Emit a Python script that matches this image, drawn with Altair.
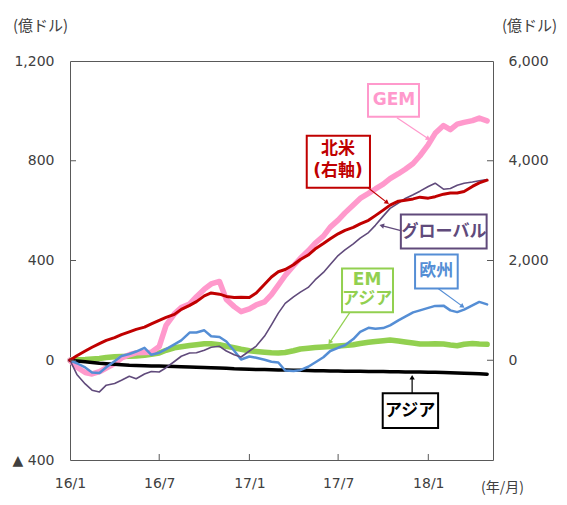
import altair as alt
import pandas as pd

# ---- data (half-monthly, 2016/1 - 2018/5) ----
dates = pd.date_range("2016-01-01", periods=57, freq="SMS")

gem = [0, -28, -49, -55, -46, -31, -13, 9, 22, 30, 31, 32, 55, 140, 186, 211, 226, 255, 285, 306,
       316, 244, 215, 195, 206, 222, 234, 263, 301, 340, 379, 409, 439, 469, 498, 534, 562, 591, 623, 649,
       669, 687, 706, 728, 748, 766, 789, 820, 865, 910, 941, 925, 947, 954, 961, 971, 960]
north_america = [0, 90, 185, 260, 335, 400, 455, 515, 570, 620, 665, 730, 800, 860, 920, 1020, 1100, 1175, 1290, 1350,
                 1325, 1280, 1260, 1265, 1260, 1350, 1525, 1670, 1775, 1820, 1915, 2020, 2110, 2230, 2340, 2435, 2535, 2605, 2665, 2735,
                 2805, 2900, 3010, 3110, 3190, 3210, 3235, 3270, 3250, 3280, 3330, 3355, 3355, 3385, 3485, 3555, 3610]
global_ = [0, -57, -95, -120, -127, -100, -93, -80, -64, -74, -55, -45, -47, -30, -5, 16, 29, 30, 40, 52,
           56, 37, 22, 13, 37, 57, 97, 142, 189, 228, 254, 273, 292, 322, 352, 384, 420, 443, 467, 490,
           512, 541, 578, 609, 630, 649, 664, 678, 697, 710, 686, 689, 702, 710, 715, 720, 725]
europe = [0, -12, -29, -49, -51, -28, -4, 17, 25, 35, 50, 22, 30, 45, 64, 80, 111, 111, 120, 96,
          93, 75, 38, 3, 15, 10, 2, -6, -9, -41, -43, -40, -26, -9, 12, 37, 50, 60, 85, 114,
          130, 126, 129, 140, 160, 175, 192, 200, 210, 218, 219, 200, 193, 203, 220, 234, 224]
em_asia = [0, 2, 3, 5, 7, 11, 14, 15, 16, 17, 20, 24, 29, 40, 50, 54, 59, 62, 66, 66,
           62, 56, 50, 44, 38, 35, 32, 30, 29, 31, 38, 45, 48, 51, 53, 55, 57, 59, 62, 67,
           72, 75, 78, 81, 77, 73, 69, 65, 65, 66, 65, 61, 58, 64, 67, 65, 64]
asia = [0, -3, -6, -9, -12, -14, -16, -18, -20, -21, -22, -23, -23, -24, -25, -26, -27, -28, -29, -30,
        -31, -32, -34, -35, -36, -37, -37, -38, -39, -39, -40, -40, -41, -42, -42, -43, -43, -44, -44, -44,
        -45, -45, -45, -46, -46, -47, -47, -47, -48, -48, -49, -50, -51, -52, -53, -54, -56]

# axis ticks
x_ticks = ["2016-01-01", "2016-07-01", "2017-01-01", "2017-07-01", "2018-01-01"]
left_ticks = [-400, 0, 400, 800, 1200]
right_ticks = [0, 2000, 4000, 6000]

# annotation boxes + arrows
ann_color = ["#FF99CC", "#C00000", "#604A7B", "#558ED5", "#92D050", "#000000"]
box_x0 = ["2017-08-31", "2017-04-28", "2017-11-06", "2017-12-05", "2017-07-09", "2017-09-30"]
box_x1 = ["2017-12-13", "2017-09-04", "2018-04-30", "2018-03-02", "2017-10-21", "2018-01-21"]
box_y0 = [976, 692, 448, 288, 192, -272]
box_y1 = [1108, 900, 584, 424, 368, -132]
arr_x0 = ["2017-10-29", "2017-08-31", "2017-11-06", "2018-01-21", "2017-07-25", "2017-11-29"]
arr_y0 = [972, 692, 520, 288, 192, -132]
arr_x1 = ["2018-01-01", "2017-10-09", "2017-09-28", "2018-03-12", "2017-06-14", "2017-11-29"]
arr_y1 = [888, 632, 540, 216, 72, -68]
arr_angle = [124, 128, 285, 126, 214, 0]

# annotation text lines
lab_text = ["GEM", "北米", "(右軸)", "グローバル", "欧州", "EM", "アジア", "アジア"]
lab_color = ["#FF99CC", "#C00000", "#C00000", "#604A7B", "#558ED5", "#92D050", "#92D050", "#000000"]
lab_x = ["2017-10-23", "2017-07-01", "2017-07-01", "2018-02-02", "2018-01-17",
         "2017-08-29", "2017-08-29", "2017-11-25"]
lab_y = [1042, 846, 758, 516, 356, 322, 244, -202]

# ---- styling ----
FONT = "DejaVu Sans"
JFONT = "Noto Sans CJK JP"
AXC = "#404040"
FRAME = "#595959"

xs = alt.Scale(domain=[alt.DateTime(year=2016, month=1, date=1),
                       alt.DateTime(year=2018, month=5, date=13)])
ys_left = alt.Scale(domain=[-400, 1200], nice=False, zero=False)
ys_right = alt.Scale(domain=[-2000, 6000], nice=False, zero=False)

x_axis = alt.Axis(
    values=[alt.DateTime(year=int(d[:4]), month=int(d[5:7]), date=1) for d in x_ticks],
    labelExpr="timeFormat(datum.value, '%y/%-m')",
    grid=False, domain=False, ticks=False, labelFlush=False, labelOverlap=False,
    labelPadding=16, labelFont=FONT, labelFontSize=14, labelColor=AXC,
    title="(年/月)", titleAngle=0, titleX=432, titleY=27, titleAlign="center",
    titleBaseline="middle", titleFont=JFONT, titleFontSize=14, titleFontWeight="normal",
    titleColor=AXC,
)
left_axis = alt.Axis(
    values=left_ticks, orient="left",
    labelExpr="datum.value < 0 ? '▲ ' + format(-datum.value, ',') : format(datum.value, ',')",
    grid=False, domain=False, ticks=False, labelPadding=16, labelFont=FONT, labelFontSize=14,
    labelColor=AXC, labelBaseline="middle",
    title="(億ドル)", titleAngle=0, titleX=-30, titleY=-36, titleAlign="center",
    titleBaseline="middle", titleFont=JFONT, titleFontSize=15, titleFontWeight="normal",
    titleColor=AXC,
)
right_axis = alt.Axis(
    values=right_ticks, orient="right",
    labelExpr="format(datum.value, ',')",
    grid=False, domain=False, ticks=False, labelPadding=15, labelFont=FONT, labelFontSize=14,
    labelColor=AXC, labelBaseline="middle",
    title="(億ドル)", titleAngle=0, titleX=36, titleY=-36, titleAlign="center",
    titleBaseline="middle", titleFont=JFONT, titleFontSize=15, titleFontWeight="normal",
    titleColor=AXC,
)


def series_df(vals):
    return pd.DataFrame({"date": dates, "value": vals})


def line_layer(vals, color, width, y_scale, y_ax):
    return alt.Chart(series_df(vals)).mark_line(
        color=color, strokeWidth=width, strokeJoin="round", strokeCap="round"
    ).encode(
        x=alt.X("date:T", scale=xs, axis=x_axis),
        y=alt.Y("value:Q", scale=y_scale, axis=y_ax),
    )


left_group = alt.layer(
    line_layer(em_asia, "#92D050", 5.5, ys_left, left_axis),
    line_layer(gem, "#FF99CC", 5.5, ys_left, left_axis),
    line_layer(asia, "#000000", 3.5, ys_left, left_axis),
    line_layer(europe, "#558ED5", 2.5, ys_left, left_axis),
    line_layer(global_, "#604A7B", 1.6, ys_left, left_axis),
)

red = line_layer(north_america, "#C00000", 3, ys_right, right_axis)

# inward ticks
xt_df = pd.DataFrame({"d": pd.to_datetime(x_ticks[1:])})
xt = alt.Chart(xt_df).mark_rule(color=FRAME, strokeWidth=1).encode(
    x=alt.X("d:T", scale=xs, axis=x_axis), y=alt.value(399), y2=alt.value(393))
yt_df = pd.DataFrame({"v": [0, 400, 800]})
ytl = alt.Chart(yt_df).mark_rule(color=FRAME, strokeWidth=1).encode(
    y=alt.Y("v:Q", scale=ys_left, axis=None), x=alt.value(0), x2=alt.value(6))
ytr = alt.Chart(yt_df).mark_rule(color=FRAME, strokeWidth=1).encode(
    y=alt.Y("v:Q", scale=ys_left, axis=None), x=alt.value(423), x2=alt.value(417))

ann_df = pd.DataFrame({
    "color": ann_color,
    "bx0": pd.to_datetime(box_x0), "bx1": pd.to_datetime(box_x1),
    "by0": box_y0, "by1": box_y1,
    "ax0": pd.to_datetime(arr_x0), "ay0": arr_y0,
    "ax1": pd.to_datetime(arr_x1), "ay1": arr_y1,
    "angle": arr_angle,
})
lab_df = pd.DataFrame({
    "text": lab_text, "color": lab_color,
    "tx": pd.to_datetime(lab_x), "ty": lab_y,
})

arrows = alt.Chart(ann_df).mark_rule(strokeWidth=1.2).encode(
    x=alt.X("ax0:T", scale=xs, axis=x_axis), x2="ax1:T",
    y=alt.Y("ay0:Q", scale=ys_left, axis=None), y2="ay1:Q",
    color=alt.Color("color:N", scale=None),
)
heads = alt.Chart(ann_df).mark_point(shape="triangle-up", filled=True, size=28, opacity=1).encode(
    x=alt.X("ax1:T", scale=xs, axis=x_axis),
    y=alt.Y("ay1:Q", scale=ys_left, axis=None),
    color=alt.Color("color:N", scale=None),
    angle=alt.Angle("angle:Q", scale=None),
)
boxes = alt.Chart(ann_df).mark_rect(fill="white", strokeWidth=2).encode(
    x=alt.X("bx0:T", scale=xs, axis=x_axis), x2="bx1:T",
    y=alt.Y("by0:Q", scale=ys_left, axis=None), y2="by1:Q",
    stroke=alt.Stroke("color:N", scale=None),
)
texts = alt.Chart(lab_df).mark_text(
    font="DejaVu Sans, Noto Sans CJK JP", fontSize=17, fontWeight="bold",
    align="center", baseline="middle",
).encode(
    x=alt.X("tx:T", scale=xs, axis=x_axis),
    y=alt.Y("ty:Q", scale=ys_left, axis=None),
    text="text:N",
    color=alt.Color("color:N", scale=None),
)

ann_group = alt.layer(xt, ytl, ytr, arrows, heads, boxes, texts)

chart = alt.layer(left_group, red, ann_group).resolve_scale(y="independent").properties(
    width=423, height=399,
    padding={"left": 62, "top": 53, "right": 66, "bottom": 37},
    autosize=alt.AutoSizeParams(type="none"),
    background="white",
).configure_view(stroke=FRAME, strokeWidth=1)

chart.save("out.html", embed_options={"renderer": "svg", "actions": False})
